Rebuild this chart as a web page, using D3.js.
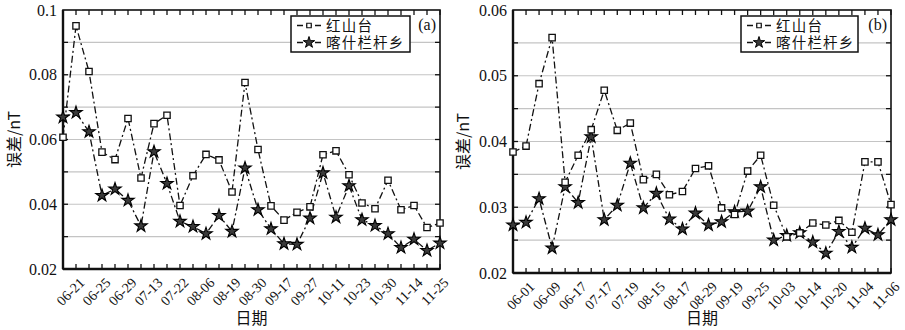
<!DOCTYPE html>
<html>
<head>
<meta charset="utf-8">
<script src="https://cdn.jsdelivr.net/npm/d3@7/dist/d3.min.js"></script>
<style>
  html, body { margin: 0; padding: 0; background: #fff; }
  svg { display: block; }
  text { font-family: "Liberation Serif", "Times New Roman", "Noto Sans CJK SC", serif; fill: #111; }
  .cjk { font-family: "Noto Sans CJK SC", "Liberation Serif", serif; }
</style>
</head>
<body>
<svg id="chart" width="905" height="330"></svg>
<script>
// Panel (a): one point per observation, labelled on every other date
const datesA = ["06-21", "06-25", "06-29", "07-13", "07-22", "08-06", "08-19", "08-30",
                "09-17", "09-27", "10-11", "10-23", "10-30", "11-14", "11-25"];
const hongshantaiA = [0.0607, 0.0951, 0.0810, 0.0561, 0.0538, 0.0665, 0.0481, 0.0649, 0.0675, 0.0396,
                      0.0488, 0.0554, 0.0537, 0.0438, 0.0776, 0.0569, 0.0395, 0.0351, 0.0375, 0.0392,
                      0.0553, 0.0565, 0.0491, 0.0404, 0.0386, 0.0474, 0.0383, 0.0396, 0.0328, 0.0342];
const kashenA = [0.0669, 0.0683, 0.0624, 0.0427, 0.0447, 0.0412, 0.0333, 0.0562, 0.0464, 0.0347,
                 0.0331, 0.0309, 0.0365, 0.0316, 0.0512, 0.0383, 0.0324, 0.0278, 0.0276, 0.0357,
                 0.0497, 0.0360, 0.0457, 0.0352, 0.0334, 0.0309, 0.0266, 0.0292, 0.0257, 0.0280];
const yTicksA = [0.02, 0.04, 0.06, 0.08, 0.1];

// Panel (b)
const datesB = ["06-01", "06-09", "06-17", "07-17", "07-19", "08-15", "08-17", "08-29",
                "09-19", "09-25", "10-03", "10-14", "10-20", "11-04", "11-06"];
const hongshantaiB = [0.0384, 0.0393, 0.0488, 0.0558, 0.0338, 0.0379, 0.0418, 0.0478, 0.0417, 0.0428,
                      0.0342, 0.0350, 0.0319, 0.0324, 0.0359, 0.0363, 0.0299, 0.0289, 0.0355, 0.0379,
                      0.0303, 0.0255, 0.0261, 0.0276, 0.0273, 0.0280, 0.0262, 0.0369, 0.0369, 0.0304];
const kashenB = [0.0273, 0.0277, 0.0313, 0.0238, 0.0331, 0.0307, 0.0407, 0.0281, 0.0303, 0.0367,
                 0.0299, 0.0321, 0.0282, 0.0267, 0.0291, 0.0273, 0.0278, 0.0293, 0.0294, 0.0331,
                 0.0250, 0.0257, 0.0261, 0.0247, 0.0230, 0.0263, 0.0239, 0.0268, 0.0258, 0.0281];
const yTicksB = [0.02, 0.03, 0.04, 0.05, 0.06];

const seriesNames = ["红山台", "喀什栏杆乡"];

const svg = d3.select("#chart");
const dashDot = "7,3,2,3";

function drawPanel(opt) {
  const { left, right, top, bottom, yDomain, gridStep, yTicks, dates, s1, s2, tag, tickFmt } = opt;
  const n = s1.length;
  const g = svg.append("g");

  const x = d3.scaleLinear().domain([0, n - 1]).range([left, right]);
  const y = d3.scaleLinear().domain(yDomain).range([bottom, top]);

  // horizontal grid
  const grid = d3.range(yDomain[0] + gridStep, yDomain[1] - gridStep / 2, gridStep);
  g.append("g").selectAll("line").data(grid).join("line")
    .attr("x1", left).attr("x2", right)
    .attr("y1", d => y(d)).attr("y2", d => y(d))
    .attr("stroke", "#c4c4c4").attr("stroke-width", 1.2);

  // left axis with labels
  const yAxis = d3.axisLeft(y).tickValues(yTicks).tickSize(0).tickPadding(6).tickFormat(tickFmt);
  const ya = g.append("g").attr("transform", `translate(${left},0)`).call(yAxis);
  ya.select(".domain").remove();
  ya.selectAll("text").attr("font-size", 16).attr("font-family", "Liberation Serif, serif").attr("fill", "#111");

  // inward ticks on all four sides
  const idx = d3.range(n);
  g.append("g").selectAll("line").data(idx).join("line")
    .attr("x1", d => x(d)).attr("x2", d => x(d))
    .attr("y1", bottom).attr("y2", bottom - 5)
    .attr("stroke", "#111").attr("stroke-width", 1.3);
  g.append("g").selectAll("line").data(idx).join("line")
    .attr("x1", d => x(d)).attr("x2", d => x(d))
    .attr("y1", top).attr("y2", top + 5)
    .attr("stroke", "#111").attr("stroke-width", 1.3);
  g.append("g").selectAll("line").data(grid).join("line")
    .attr("x1", right).attr("x2", right - 5)
    .attr("y1", d => y(d)).attr("y2", d => y(d))
    .attr("stroke", "#111").attr("stroke-width", 1.3);
  g.append("g").selectAll("line").data(grid).join("line")
    .attr("x1", left).attr("x2", left + 5)
    .attr("y1", d => y(d)).attr("y2", d => y(d))
    .attr("stroke", "#111").attr("stroke-width", 1.3);

  // frame
  g.append("rect").attr("x", left).attr("y", top)
    .attr("width", right - left).attr("height", bottom - top)
    .attr("fill", "none").attr("stroke", "#111").attr("stroke-width", 1.6);
  g.append("line").attr("x1", left).attr("x2", left).attr("y1", top).attr("y2", bottom)
    .attr("stroke", "#111").attr("stroke-width", 2.4);
  g.append("line").attr("x1", left).attr("x2", right).attr("y1", bottom).attr("y2", bottom)
    .attr("stroke", "#111").attr("stroke-width", 2.4);

  // x labels on every other observation, rotated
  g.append("g").selectAll("text").data(dates).join("text")
    .attr("transform", (d, i) => `translate(${x(2 * i + 1) + 6},${bottom + 11}) rotate(-45)`)
    .attr("text-anchor", "end")
    .attr("dy", "0.35em")
    .attr("font-size", 14)
    .text(d => d);

  // series lines
  const line = d3.line().x((d, i) => x(i)).y(d => y(d));
  g.append("path").datum(s1).attr("d", line)
    .attr("fill", "none").attr("stroke", "#111").attr("stroke-width", 1.3)
    .attr("stroke-dasharray", dashDot);
  g.append("path").datum(s2).attr("d", line)
    .attr("fill", "none").attr("stroke", "#111").attr("stroke-width", 1.3)
    .attr("stroke-dasharray", dashDot);

  const sq = d3.symbol().type(d3.symbolSquare).size(40);
  const st = d3.symbol().type(d3.symbolStar).size(48);

  g.append("g").selectAll("path").data(s2).join("path")
    .attr("d", st)
    .attr("transform", (d, i) => `translate(${x(i)},${y(d)})`)
    .attr("fill", "#3a3a3a").attr("stroke", "#000").attr("stroke-width", 1.1);
  g.append("g").selectAll("path").data(s1).join("path")
    .attr("d", sq)
    .attr("transform", (d, i) => `translate(${x(i)},${y(d)})`)
    .attr("fill", "#fff").attr("stroke", "#111").attr("stroke-width", 1.3);

  // legend
  const lg = g.append("g");
  const lx = opt.legendX, ly = top + 6;
  lg.append("rect").attr("x", lx).attr("y", ly).attr("width", opt.legendW).attr("height", 36)
    .attr("fill", "#fff").attr("stroke", "#111").attr("stroke-width", 1.5);
  [0, 1].forEach(k => {
    const yy = ly + 9.5 + k * 17;
    lg.append("line").attr("x1", lx + 6).attr("x2", lx + 30).attr("y1", yy).attr("y2", yy)
      .attr("stroke", "#111").attr("stroke-width", 1.3).attr("stroke-dasharray", "6,3");
    if (k === 0) {
      lg.append("path").attr("d", d3.symbol().type(d3.symbolSquare).size(20))
        .attr("transform", `translate(${lx + 18},${yy})`)
        .attr("fill", "#fff").attr("stroke", "#111").attr("stroke-width", 1.2);
    } else {
      lg.append("path").attr("d", d3.symbol().type(d3.symbolStar).size(40))
        .attr("transform", `translate(${lx + 18},${yy})`)
        .attr("fill", "#3a3a3a").attr("stroke", "#000").attr("stroke-width", 1);
    }
    // serif face first so the line box stays compact; CJK glyphs fall back to Noto
    lg.append("text").attr("x", lx + 35).attr("y", yy)
      .attr("dy", "0.36em").attr("font-size", 14.5).attr("letter-spacing", 1.2)
      .text(seriesNames[k]);
  });

  g.append("text").attr("x", right - 4).attr("y", top + 20)
    .attr("text-anchor", "end").attr("font-size", 16).text(tag);

  // axis titles
  g.append("text").attr("class", "cjk")
    .attr("transform", `translate(${opt.yTitleX},${(top + bottom) / 2}) rotate(-90)`)
    .attr("text-anchor", "middle").attr("dy", "0.35em").attr("font-size", 16)
    .text("误差/nT");
  g.append("text").attr("class", "cjk")
    .attr("x", (left + right) / 2).attr("y", 318)
    .attr("text-anchor", "middle").attr("dy", "0.35em").attr("font-size", 16)
    .text("日期");
}

drawPanel({
  left: 63, right: 440, top: 10, bottom: 269,
  yDomain: [0.02, 0.1], gridStep: 0.01, yTicks: yTicksA,
  tickFmt: d => (d === 0.1 ? "0.1" : d3.format(".2f")(d)),
  dates: datesA, s1: hongshantaiA, s2: kashenA, tag: "(a)",
  legendX: 291, legendW: 119, yTitleX: 14
});
drawPanel({
  left: 513, right: 891, top: 10, bottom: 273,
  yDomain: [0.02, 0.06], gridStep: 0.005, yTicks: yTicksB,
  tickFmt: d3.format(".2f"),
  dates: datesB, s1: hongshantaiB, s2: kashenB, tag: "(b)",
  legendX: 741, legendW: 117, yTitleX: 463
});
</script>
</body>
</html>
